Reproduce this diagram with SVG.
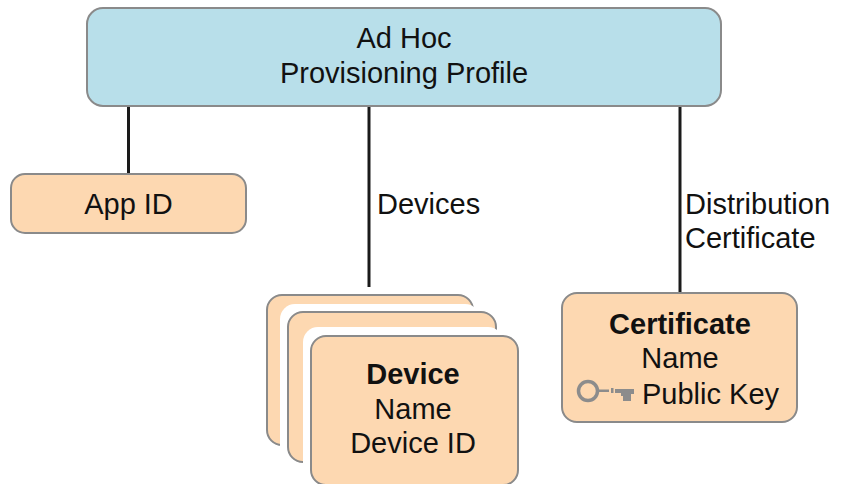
<svg xmlns="http://www.w3.org/2000/svg" width="843" height="484" viewBox="0 0 843 484">
<style>
text{font-family:"Liberation Sans",Arial,sans-serif;font-size:29px;fill:#111;text-anchor:middle}
.b{font-weight:bold}
.l{text-anchor:start}
.box{fill:#fdd8b1;stroke:#8a8a8a;stroke-width:2}
.conn{stroke:#1a1a1a;stroke-width:3;fill:none}
</style>
<rect width="843" height="484" fill="#fff"/>
<g id="connectors">
<line class="conn" x1="128.500" y1="106" x2="128.500" y2="174"/>
<line class="conn" x1="369" y1="106" x2="369" y2="287"/>
<line class="conn" x1="680" y1="106" x2="680" y2="293"/>
</g>
<g id="profile">
<rect x="87" y="8" width="634" height="98" rx="16" fill="#b8dfea" stroke="#8a8a8a" stroke-width="2"/>
<text x="404" y="48">Ad Hoc</text>
<text x="404" y="83">Provisioning Profile</text>
</g>
<g id="appid">
<rect class="box" x="11" y="174" width="235" height="59" rx="14"/>
<text x="128.500" y="214">App ID</text>
</g>
<g id="device-stack">
<rect class="box" x="267" y="295" width="206" height="150" rx="15"/>
<rect x="280" y="304" width="200" height="170" rx="15" fill="#fff"/>
<rect class="box" x="288" y="312" width="208" height="150" rx="15"/>
<rect x="303" y="327" width="200" height="157" rx="15" fill="#fff"/>
<rect class="box" x="311" y="336" width="207" height="149" rx="15"/>
<text class="b" x="413" y="384">Device</text>
<text x="413" y="419">Name</text>
<text x="413" y="453">Device ID</text>
</g>
<g id="certificate">
<rect class="box" x="562" y="293" width="235" height="129" rx="15"/>
<text class="b" x="680" y="334">Certificate</text>
<text x="680" y="368">Name</text>
<g id="key" fill="#8c8c8c">
<circle cx="588" cy="391" r="9.500" fill="none" stroke="#8c8c8c" stroke-width="3.500"/>
<rect x="598" y="389.500" width="11" height="2.500"/>
<rect x="611" y="388" width="2.500" height="5"/>
<path d="M615 389h19v5h-3v7h-8v-5h-2v-3h-6z"/>
</g>
<text class="l" x="642" y="404">Public Key</text>
</g>
<g id="labels">
<text class="l" x="377" y="214">Devices</text>
<text class="l" x="685" y="214">Distribution</text>
<text class="l" x="685" y="248">Certificate</text>
</g>
</svg>
